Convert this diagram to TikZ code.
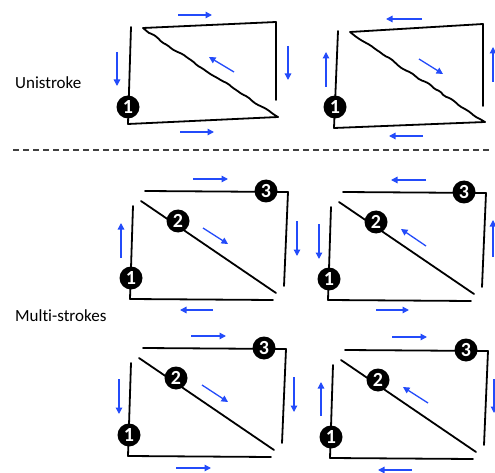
\documentclass[tikz,border=0pt]{standalone}
\usepackage{fontspec}
\setmainfont{Carlito}[Ligatures=NoCommon]
\usetikzlibrary{arrows.meta,decorations.pathmorphing}
\definecolor{arrowblue}{RGB}{35,75,250}
\tikzset{
  stroke/.style={line width=1.8pt, black, line cap=round, line join=round},
  rough/.style={decorate, decoration={random steps, segment length=6pt, amplitude=1.1pt}, rounded corners=2pt},
  dir/.style={-{Triangle[length=6.5pt,width=6.5pt]}, line width=1.3pt, arrowblue},
  num/.style={
    circle,
    fill=black,
    minimum size=23pt,
    inner sep=0pt,
    text=white,
    font=\fontsize{20}{20}\selectfont\bfseries
  },
  caption/.style={anchor=west, inner sep=0pt, font=\fontsize{17}{20}\selectfont},
  sep/.style={dash pattern=on 6pt off 4pt, line width=1.2pt, black!75}
}
\newcommand{\multistrokes}[1]{
  \coordinate (#1t1) at (145,191);
  \coordinate (#1t2) at (288,192);
  \coordinate (#1r2) at (284,286);
  \coordinate (#1d1) at (141,201);
  \coordinate (#1d2) at (276,293);
  \coordinate (#1l1) at (133,206);
  \coordinate (#1l2) at (130,299);
  \coordinate (#1b2) at (273,300);
  \draw[stroke] (#1t1) -- (#1t2) -- (#1r2);
  \draw[stroke] (#1d1) -- (#1d2);
  \draw[stroke] (#1l1) -- (#1l2) -- (#1b2);
  \node[num] (#1n1) at (131,278) {1};
  \node[num] (#1n2) at (178,221) {2};
  \node[num] (#1n3) at (266,191) {3};
}

\begin{document}
\begin{tikzpicture}[x=1pt, y=-1pt]
  \pgfmathsetseed{7}
  \useasboundingbox (0,0) rectangle (495,473);

  % -------------------------------------------------------------------
  % labels and separator
  % -------------------------------------------------------------------
  \node[caption] (uni) at (15,83) {Unistroke};
  \node[caption] (multi) at (15,316) {Multi-strokes};
  \coordinate (sepl) at (13,150);
  \coordinate (sepr) at (492,150);
  \draw[sep] (sepl) -- (sepr);

  % -------------------------------------------------------------------
  % Unistroke, left
  % -------------------------------------------------------------------
  \coordinate (ua1) at (131,27);
  \coordinate (ua2) at (128,124);
  \coordinate (ua3) at (278,117);
  \coordinate (ua4) at (149,33);
  \coordinate (ua5) at (143,28);
  \coordinate (ua6) at (276,22);
  \coordinate (ua7) at (276,100);
  \draw[stroke] (ua1) -- (ua2) -- (ua3);
  \draw[stroke, rough] (ua3) -- (ua4);
  \draw[stroke] (ua4) -- (ua5) -- (ua6) -- (ua7);
  \node[num] (ua) at (128,107) {1};
  \draw[dir] (178,15) -- (212,15);
  \draw[dir] (117,52) -- (117,86);
  \draw[dir] (288,46) -- (288,80);
  \draw[dir] (234,72) -- (209,57);
  \draw[dir] (180,132) -- (214,132);

  % -------------------------------------------------------------------
  % Unistroke, right
  % -------------------------------------------------------------------
  \coordinate (ub1) at (338,31);
  \coordinate (ub2) at (334,128);
  \coordinate (ub3) at (485,122);
  \coordinate (ub4) at (355,36);
  \coordinate (ub5) at (350,32);
  \coordinate (ub6) at (483,24);
  \coordinate (ub7) at (483,106);
  \draw[stroke] (ub1) -- (ub2) -- (ub3);
  \draw[stroke, rough] (ub3) -- (ub4);
  \draw[stroke] (ub4) -- (ub5) -- (ub6) -- (ub7);
  \node[num] (ub) at (335,107) {1};
  \draw[dir] (422,19) -- (386,19);
  \draw[dir] (326,87) -- (326,52);
  \draw[dir] (493,82) -- (493,47);
  \draw[dir] (419,59) -- (443,74);
  \draw[dir] (423,136) -- (389,136);

  % -------------------------------------------------------------------
  % Multi-strokes, top left
  % -------------------------------------------------------------------
  \begin{scope}[shift={(0,0)}]
    \multistrokes{ma}
    \draw[dir] (193,179) -- (228,179);
    \draw[dir] (121,258) -- (121,223);
    \draw[dir] (297,221) -- (297,256);
    \draw[dir] (203,228) -- (228,244);
    \draw[dir] (213,310) -- (180,310);
  \end{scope}

  % -------------------------------------------------------------------
  % Multi-strokes, top right
  % -------------------------------------------------------------------
  \begin{scope}[shift={(198,1)}]
    \multistrokes{mb}
    \draw[dir] (228,179) -- (193,179);
    \draw[dir] (121,223) -- (121,258);
    \draw[dir] (295,256) -- (295,219);
    \draw[dir] (228,245) -- (203,228);
    \draw[dir] (178,309) -- (211,309);
  \end{scope}

  % -------------------------------------------------------------------
  % Multi-strokes, bottom left
  % -------------------------------------------------------------------
  \begin{scope}[shift={(-2,157)}]
    \multistrokes{mc}
    \draw[dir] (193,179) -- (228,179);
    \draw[dir] (121,222) -- (121,257);
    \draw[dir] (296,220) -- (296,255);
    \draw[dir] (204,228) -- (230,245);
    \draw[dir] (178,311) -- (213,311);
  \end{scope}

  % -------------------------------------------------------------------
  % Multi-strokes, bottom right
  % -------------------------------------------------------------------
  \begin{scope}[shift={(200,159)}]
    \multistrokes{md}
    \draw[dir] (192,178) -- (227,178);
    \draw[dir] (121,257) -- (121,223);
    \draw[dir] (294,220) -- (294,254);
    \draw[dir] (228,244) -- (203,228);
    \draw[dir] (212,311) -- (178,311);
  \end{scope}

\end{tikzpicture}
\end{document}
